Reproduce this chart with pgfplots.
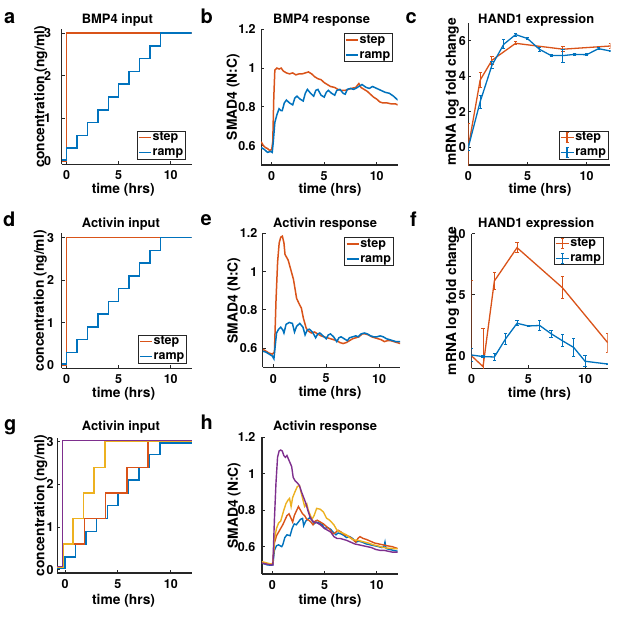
\documentclass[border=0pt]{standalone}
\usepackage{fontspec}
\setmainfont{TeX Gyre Heros}
\usepackage{pgfplots}
\pgfplotsset{compat=1.18}
\definecolor{mblue}{RGB}{0,114,189}
\definecolor{morange}{RGB}{217,83,25}
\definecolor{myellow}{RGB}{237,177,32}
\definecolor{mpurple}{RGB}{126,47,142}
\definecolor{maxis}{RGB}{38,38,38}
\newcommand{\tfont}{\bfseries\fontsize{12.9}{13}\selectfont}
\newcommand{\pfont}{\bfseries\fontsize{20}{20}\selectfont}
\pgfplotsset{
  mstyle/.style={
    scale only axis, anchor=south west,
    axis lines=left,
    axis line style={-, draw=maxis, line width=1.2pt},
    tick align=inside,
    major tick length=3pt,
    every tick/.style={maxis, line width=1pt},
    tick label style={font=\bfseries\fontsize{12.5}{13}\selectfont, text=black},
    xticklabel style={yshift=-3pt},
    label style={font=\bfseries\fontsize{13.8}{14}\selectfont},
    /pgf/number format/assume math mode=true,
    xtick={0,5,10},
    xlabel={time (hrs)},
    legend cell align=left,
    legend style={draw=maxis, line width=0.7pt, fill=white,
      font=\bfseries\fontsize{12.5}{13}\selectfont,
      inner xsep=1pt, inner ysep=0.5pt, row sep=3pt,
      nodes={inner xsep=1pt, inner ysep=0pt, text height=9.3pt, text depth=2.6pt}},
  },
  lstep/.style={morange, line width=1.5pt, legend image code/.code={\draw[morange,line width=1.5pt] (0pt,0pt)--(12pt,0pt);}},
  lramp/.style={mblue, line width=1.5pt, legend image code/.code={\draw[mblue,line width=1.5pt] (0pt,0pt)--(12pt,0pt);}},
  estep/.style={morange, line width=1.3pt, legend image code/.code={\draw[morange,line width=1.3pt] (0pt,0pt)--(13pt,0pt) (6.5pt,-5pt)--(6.5pt,5pt) (5pt,5pt)--(8pt,5pt) (5pt,-5pt)--(8pt,-5pt);},
    error bars/.cd, y dir=both, y explicit, error bar style={line width=1pt}, error mark options={rotate=90, mark size=1.6pt, line width=1pt}},
  eramp/.style={mblue, line width=1.3pt, legend image code/.code={\draw[mblue,line width=1.3pt] (0pt,0pt)--(13pt,0pt) (6.5pt,-5pt)--(6.5pt,5pt) (5pt,5pt)--(8pt,5pt) (5pt,-5pt)--(8pt,-5pt);},
    error bars/.cd, y dir=both, y explicit, error bar style={line width=1pt}, error mark options={rotate=90, mark size=1.6pt, line width=1pt}},
}
\begin{document}
\begin{tikzpicture}
\path[use as bounding box] (0,0) rectangle (617pt,620pt);

% ---------------- a
\begin{axis}[mstyle, at={(61.5pt,455.6pt)}, width=130pt, height=135.2pt,
  xmin=-0.5, xmax=12, ymin=-0.08, ymax=3.09, ytick={0,1,2,3},
  yticklabel style={xshift=-7pt},
  ylabel={concentration (ng/ml)},
  xlabel style={at={(axis description cs:0.475,0)}, anchor=base, yshift=-29pt},
  ylabel style={at={(axis description cs:-0.132,0.5)}, anchor=base},
  legend style={at={(0.955,0.038)}, anchor=south east}]
\addplot[lstep, const plot] coordinates {(-0.5,0) (0,3) (12,3)};
\addlegendentry{step}
\addplot[lramp, const plot] coordinates {(-0.5,0.02) (0,0.3) (1,0.6) (2,0.9) (3,1.2) (4,1.5) (5,1.8) (6,2.1) (7,2.4) (8,2.7) (9,3) (12,3)};
\addlegendentry{ramp}
\end{axis}

% ---------------- b
\begin{axis}[mstyle, at={(261.2pt,455pt)}, width=136.5pt, height=135.7pt,
  xmin=-1, xmax=12, ymin=0.5, ymax=1.2, ytick={0.6,0.8,1,1.2},
  yticklabel style={xshift=-2pt},
  ylabel={SMAD4 (N:C)},
  xlabel style={at={(axis description cs:0.504,0)}, anchor=base, yshift=-29pt},
  ylabel style={at={(axis description cs:-0.179,0.5)}, anchor=base},
  legend style={at={(0.963,0.971)}, anchor=north east}]
\addplot[lstep] coordinates {
(-1.0,0.62) (-0.8,0.6) (-0.6,0.59) (-0.4,0.585) (-0.2,0.575) (0.0,0.58) (0.1,0.62) (0.2,0.85) (0.3,0.99) (0.5,1.0) (0.7,0.995) (0.9,1.0) (1.1,0.985) (1.4,0.975) (1.7,0.97) (2.0,0.975) (2.3,0.965) (2.6,0.97) (2.9,0.97) (3.2,0.975) (3.5,0.98) (3.8,0.97) (4.1,0.955) (4.4,0.945) (4.7,0.94) (5.0,0.925) (5.3,0.915) (5.6,0.905) (6.0,0.9) (6.3,0.89) (6.6,0.885) (7.0,0.885) (7.3,0.89) (7.6,0.895) (8.0,0.9) (8.3,0.92) (8.5,0.9) (8.8,0.89) (9.1,0.88) (9.4,0.865) (9.7,0.85) (10.0,0.84) (10.3,0.825) (10.6,0.82) (11.0,0.82) (11.4,0.815) (11.8,0.815) (12.0,0.81)};
\addlegendentry{step}
\addplot[lramp] coordinates {
(-1.0,0.59) (-0.7,0.58) (-0.4,0.565) (-0.1,0.57) (0.05,0.565) (0.15,0.62) (0.3,0.72) (0.5,0.76) (0.7,0.79) (0.9,0.78) (1.0,0.78) (1.2,0.82) (1.4,0.835) (1.7,0.82) (2.0,0.81) (2.2,0.845) (2.4,0.855) (2.7,0.84) (3.0,0.83) (3.2,0.87) (3.4,0.89) (3.7,0.87) (4.0,0.855) (4.2,0.885) (4.4,0.89) (4.7,0.86) (5.0,0.85) (5.2,0.875) (5.4,0.885) (5.7,0.87) (6.0,0.86) (6.2,0.885) (6.5,0.89) (6.8,0.87) (7.0,0.865) (7.2,0.89) (7.5,0.895) (7.8,0.89) (8.0,0.895) (8.3,0.905) (8.6,0.915) (9.0,0.9) (9.3,0.895) (9.6,0.905) (10.0,0.895) (10.4,0.885) (10.8,0.875) (11.2,0.87) (11.6,0.855) (12.0,0.835)};
\addlegendentry{ramp}
\end{axis}

% ---------------- c
\begin{axis}[mstyle, at={(468.3pt,454.9pt)}, width=142pt, height=142.2pt,
  xmin=0, xmax=12, ymin=-1, ymax=7, ytick={0,2,4,6},
  yticklabel style={xshift=1pt},
  ylabel={mRNA log fold change},
  xlabel style={at={(axis description cs:0.505,0)}, anchor=base, yshift=-28.5pt},
  ylabel style={at={(axis description cs:-0.087,0.516)}, anchor=base},
  legend style={at={(0.986,0.041)}, anchor=south east}]
\addplot[estep] coordinates {(0,0) +- (0,1.35) (1,3.78) +- (0,0.44) (2,4.9) +- (0,0.22) (4,5.85) +- (0,0.08) (8,5.52) +- (0,0.13) (12,5.7) +- (0,0.14)};
\addlegendentry{step}
\addplot[eramp] coordinates {(0,0) +- (0,0.2) (1,2.56) +- (0,0.35) (2,4.62) +- (0,0.19) (3,5.8) +- (0,0.25) (4,6.34) +- (0,0.08) (5,6.12) +- (0,0.08) (6,5.52) +- (0,0.12) (7,5.16) +- (0,0.06) (8,5.16) +- (0,0.37) (9,5.23) +- (0,0.05) (10,5.21) +- (0,0.05) (11,5.55) +- (0,0.05) (12,5.42) +- (0,0.05)};
\addlegendentry{ramp}
\end{axis}

% ---------------- d
\begin{axis}[mstyle, at={(61.5pt,251.6pt)}, width=130pt, height=134.9pt,
  xmin=-0.5, xmax=12, ymin=-0.08, ymax=3.1, ytick={0,1,2,3},
  yticklabel style={xshift=-4pt},
  ylabel={concentration (ng/ml)},
  xlabel style={at={(axis description cs:0.478,0)}, anchor=base, yshift=-29pt},
  ylabel style={at={(axis description cs:-0.135,0.5)}, anchor=base},
  legend style={at={(0.963,0.038)}, anchor=south east}]
\addplot[lstep, const plot] coordinates {(-0.5,0) (0,3) (12,3)};
\addlegendentry{step}
\addplot[lramp, const plot] coordinates {(-0.5,0.02) (0,0.3) (1,0.6) (2,0.9) (3,1.2) (4,1.5) (5,1.8) (6,2.1) (7,2.4) (8,2.7) (9,3) (12,3)};
\addlegendentry{ramp}
\end{axis}

% ---------------- e
\begin{axis}[mstyle, at={(262.8pt,252.5pt)}, width=137.4pt, height=134.2pt,
  xmin=-1, xmax=12, ymin=0.5, ymax=1.2, ytick={0.6,0.8,1,1.2},
  yticklabel style={xshift=-2pt},
  ylabel={SMAD4 (N:C)},
  xlabel style={at={(axis description cs:0.489,0)}, anchor=base, yshift=-29pt},
  ylabel style={at={(axis description cs:-0.183,0.5)}, anchor=base},
  legend style={at={(0.95,0.97)}, anchor=north east}]
\addplot[lstep] coordinates {
(-1.0,0.595) (-0.7,0.585) (-0.4,0.575) (-0.1,0.57) (0.1,0.58) (0.25,0.85) (0.4,1.05) (0.55,1.15) (0.7,1.18) (0.85,1.185) (1.0,1.15) (1.1,1.09) (1.25,1.075) (1.4,1.06) (1.6,1.02) (1.9,0.96) (2.2,0.86) (2.5,0.825) (2.65,0.81) (2.84,0.757) (3.1,0.706) (3.3,0.69) (3.6,0.68) (3.9,0.685) (4.2,0.675) (4.5,0.665) (4.8,0.66) (5.1,0.655) (5.4,0.65) (5.7,0.645) (6.0,0.64) (6.3,0.63) (6.6,0.625) (6.9,0.63) (7.2,0.64) (7.5,0.65) (7.8,0.655) (8.1,0.66) (8.4,0.675) (8.7,0.675) (9.0,0.67) (9.3,0.66) (9.6,0.655) (9.9,0.65) (10.2,0.645) (10.5,0.635) (10.8,0.64) (11.1,0.64) (11.4,0.635) (11.7,0.63) (12.0,0.625)};
\addlegendentry{step}
\addplot[lramp] coordinates {
(-1.0,0.585) (-0.7,0.58) (-0.4,0.57) (-0.1,0.56) (0.05,0.545) (0.15,0.6) (0.3,0.68) (0.5,0.7) (0.7,0.71) (0.9,0.695) (1.0,0.68) (1.2,0.725) (1.5,0.735) (1.8,0.73) (2.0,0.685) (2.2,0.715) (2.5,0.73) (2.8,0.71) (3.0,0.67) (3.2,0.695) (3.4,0.7) (3.7,0.685) (4.0,0.655) (4.2,0.675) (4.4,0.68) (4.7,0.665) (5.0,0.65) (5.2,0.67) (5.4,0.675) (5.7,0.66) (6.0,0.635) (6.2,0.655) (6.4,0.66) (6.7,0.65) (7.0,0.64) (7.2,0.655) (7.5,0.66) (7.8,0.665) (8.0,0.66) (8.3,0.675) (8.6,0.68) (8.9,0.675) (9.2,0.665) (9.5,0.66) (9.8,0.66) (10.1,0.665) (10.4,0.66) (10.7,0.65) (11.0,0.645) (11.3,0.64) (11.6,0.635) (12.0,0.635)};
\addlegendentry{ramp}
\end{axis}

% ---------------- f
\begin{axis}[mstyle, at={(471.7pt,251.8pt)}, width=136pt, height=134.2pt,
  xmin=0, xmax=12, ymin=-1, ymax=10, ytick={0,5,10},
  yticklabel style={xshift=-2.7pt},
  ylabel={mRNA log fold change},
  xlabel style={at={(axis description cs:0.498,0)}, anchor=base, yshift=-29pt},
  ylabel style={at={(axis description cs:-0.115,0.5)}, anchor=base},
  legend style={at={(0.968,0.98)}, anchor=north east}]
\addplot[estep] coordinates {(0,0) +- (0,6.2) (1,-0.87) +- (0,3.1) (2,6.15) +- (0,0.68) (4,8.88) +- (0,0.4) (8,5.6) +- (0,0.9) (12,1.09) +- (0,0.78)};
\addlegendentry{step}
\addplot[eramp] coordinates {(0,0.08) +- (0,0.55) (1,-0.05) +- (0,0.05) (2,-0.08) +- (0,0.25) (3,1.42) +- (0,0.44) (4,2.68) +- (0,0.22) (5,2.46) +- (0,0.06) (6,2.5) +- (0,0.38) (7,1.83) +- (0,0.3) (8,1.25) +- (0,0.48) (9,0.7) +- (0,0.75) (10,-0.43) +- (0,0.44) (12,-0.66) +- (0,0.04)};
\addlegendentry{ramp}
\end{axis}

% ---------------- g
\begin{axis}[mstyle, at={(57.1pt,46.9pt)}, width=134.8pt, height=134.8pt,
  xmin=-0.75, xmax=12, ymin=-0.08, ymax=3.08, ytick={0,1,2,3},
  yticklabel style={xshift=0pt},
  ylabel={concentration (ng/ml)},
  xlabel style={at={(axis description cs:0.493,0)}, anchor=base, yshift=-31pt},
  ylabel style={at={(axis description cs:-0.095,0.5)}, anchor=base}]
\addplot[mblue, line width=1.5pt, const plot] coordinates {(-0.75,0.04) (0,0.3) (1,0.6) (2,0.9) (3,1.2) (4,1.5) (5,1.8) (6,2.1) (7,2.4) (8,2.7) (9,2.97) (12,2.97)};
\addplot[morange, line width=1.5pt, const plot] coordinates {(-0.75,0.05) (-0.15,0.6) (1.85,1.2) (3.85,1.8) (5.85,2.4) (7.85,3.0) (12,3.0)};
\addplot[myellow, line width=1.5pt, const plot] coordinates {(-0.75,0.05) (-0.15,0.6) (0.75,1.2) (1.75,1.8) (2.75,2.4) (3.8,3.01) (12,3.01)};
\addplot[mpurple, line width=1.5pt, const plot] coordinates {(-0.75,0.07) (-0.25,3.03) (12,3.03)};
\end{axis}

% ---------------- h
\begin{axis}[mstyle, at={(261.9pt,46pt)}, width=135.6pt, height=136.7pt,
  xmin=-1, xmax=12, ymin=0.45, ymax=1.2, ytick={0.6,0.8,1,1.2},
  yticklabel style={xshift=-3pt},
  ylabel={SMAD4 (N:C)},
  xlabel style={at={(axis description cs:0.502,0)}, anchor=base, yshift=-31pt},
  ylabel style={at={(axis description cs:-0.178,0.5)}, anchor=base}]
\addplot[mblue, line width=1.4pt] coordinates {
(-1.0,0.51) (-0.5,0.5) (-0.1,0.498) (0.05,0.5) (0.2,0.58) (0.4,0.605) (0.6,0.61) (0.9,0.6) (1.0,0.61) (1.2,0.65) (1.4,0.665) (1.7,0.66) (1.9,0.7) (2.1,0.725) (2.3,0.72) (2.5,0.735) (2.7,0.75) (2.9,0.755) (3.0,0.715) (3.2,0.74) (3.4,0.75) (3.6,0.76) (3.8,0.745) (4.0,0.725) (4.2,0.735) (4.5,0.73) (4.8,0.72) (5.0,0.7) (5.3,0.705) (5.6,0.695) (5.9,0.675) (6.1,0.665) (6.3,0.675) (6.6,0.67) (6.9,0.66) (7.1,0.65) (7.4,0.655) (7.7,0.645) (8.0,0.625) (8.3,0.63) (8.6,0.625) (9.0,0.615) (9.4,0.61) (9.8,0.605) (10.2,0.6) (10.5,0.595) (10.7,0.6) (10.8,0.625) (10.9,0.59) (11.2,0.585) (11.6,0.58) (12.0,0.575)};
\addplot[morange, line width=1.4pt] coordinates {
(-1.0,0.512) (-0.5,0.505) (-0.1,0.505) (0.05,0.51) (0.2,0.62) (0.4,0.66) (0.7,0.69) (1.0,0.72) (1.2,0.745) (1.4,0.77) (1.6,0.78) (1.8,0.755) (1.95,0.735) (2.1,0.77) (2.3,0.795) (2.5,0.82) (2.7,0.8) (2.9,0.78) (3.1,0.77) (3.3,0.75) (3.5,0.745) (3.7,0.735) (3.9,0.72) (4.1,0.74) (4.3,0.745) (4.6,0.735) (4.9,0.725) (5.2,0.71) (5.5,0.695) (5.8,0.67) (6.0,0.675) (6.3,0.69) (6.6,0.68) (6.9,0.665) (7.2,0.66) (7.5,0.65) (7.8,0.635) (8.0,0.625) (8.2,0.645) (8.4,0.655) (8.7,0.645) (9.0,0.64) (9.4,0.63) (9.8,0.62) (10.2,0.615) (10.6,0.61) (11.0,0.605) (11.5,0.6) (12.0,0.59)};
\addplot[myellow, line width=1.4pt] coordinates {
(-1.0,0.518) (-0.5,0.51) (-0.1,0.505) (0.05,0.51) (0.2,0.64) (0.4,0.7) (0.6,0.73) (0.8,0.74) (0.9,0.76) (1.1,0.8) (1.3,0.835) (1.5,0.855) (1.65,0.865) (1.8,0.82) (1.95,0.87) (2.2,0.905) (2.4,0.93) (2.6,0.935) (2.75,0.9) (2.9,0.865) (3.1,0.82) (3.3,0.835) (3.45,0.8) (3.8,0.75) (4.0,0.77) (4.25,0.81) (4.6,0.805) (4.9,0.79) (5.2,0.756) (5.5,0.745) (5.9,0.72) (6.2,0.69) (6.5,0.68) (6.8,0.673) (7.1,0.665) (7.4,0.65) (7.8,0.637) (8.2,0.635) (8.7,0.627) (9.2,0.62) (9.7,0.61) (10.2,0.603) (10.6,0.596) (11.0,0.592) (11.5,0.59) (12.0,0.588)};
\addplot[mpurple, line width=1.4pt] coordinates {
(-1.0,0.51) (-0.6,0.505) (-0.2,0.5) (0.05,0.5) (0.2,0.75) (0.35,0.95) (0.5,1.09) (0.65,1.125) (0.8,1.13) (0.95,1.125) (1.1,1.1) (1.25,1.09) (1.4,1.1) (1.55,1.08) (1.7,1.06) (1.85,1.04) (2.0,0.98) (2.2,0.96) (2.4,0.95) (2.6,0.935) (2.8,0.9) (3.0,0.87) (3.2,0.84) (3.4,0.8) (3.6,0.765) (3.8,0.745) (4.0,0.735) (4.3,0.73) (4.6,0.72) (5.0,0.7) (5.3,0.69) (5.6,0.68) (5.9,0.655) (6.2,0.645) (6.5,0.645) (6.8,0.64) (7.1,0.635) (7.5,0.625) (7.9,0.615) (8.3,0.61) (8.7,0.605) (9.1,0.6) (9.5,0.595) (9.9,0.585) (10.3,0.58) (10.7,0.58) (11.1,0.575) (11.5,0.57) (12.0,0.57)};
\end{axis}

% ---------------- titles and panel letters
\node[anchor=base west, inner sep=0pt, font=\tfont] at (81.7pt,596.7pt) {BMP4 input};
\node[anchor=base west, inner sep=0pt, font=\tfont] at (273pt,596.7pt) {BMP4 response};
\node[anchor=base west, inner sep=0pt, font=\tfont] at (478pt,596.7pt) {HAND1 expression};
\node[anchor=base west, inner sep=0pt, font=\tfont] at (81.7pt,392.7pt) {Activin input};
\node[anchor=base west, inner sep=0pt, font=\tfont] at (273pt,392.7pt) {Activin response};
\node[anchor=base west, inner sep=0pt, font=\tfont] at (478pt,392.7pt) {HAND1 expression};
\node[anchor=base west, inner sep=0pt, font=\tfont] at (81.7pt,189.3pt) {Activin input};
\node[anchor=base west, inner sep=0pt, font=\tfont] at (273pt,189.3pt) {Activin response};

\node[anchor=base west, inner sep=0pt, font=\pfont] at (4pt,596pt) {a};
\node[anchor=base west, inner sep=0pt, font=\pfont] at (200.5pt,596pt) {b};
\node[anchor=base west, inner sep=0pt, font=\pfont] at (405.5pt,596.7pt) {c};
\node[anchor=base west, inner sep=0pt, font=\pfont] at (3pt,393.3pt) {d};
\node[anchor=base west, inner sep=0pt, font=\pfont] at (200.5pt,394pt) {e};
\node[anchor=base west, inner sep=0pt, font=\pfont] at (410pt,393.3pt) {f};
\node[anchor=base west, inner sep=0pt, font=\pfont] at (4pt,189.3pt) {g};
\node[anchor=base west, inner sep=0pt, font=\pfont] at (200.5pt,190pt) {h};
\end{tikzpicture}
\end{document}
